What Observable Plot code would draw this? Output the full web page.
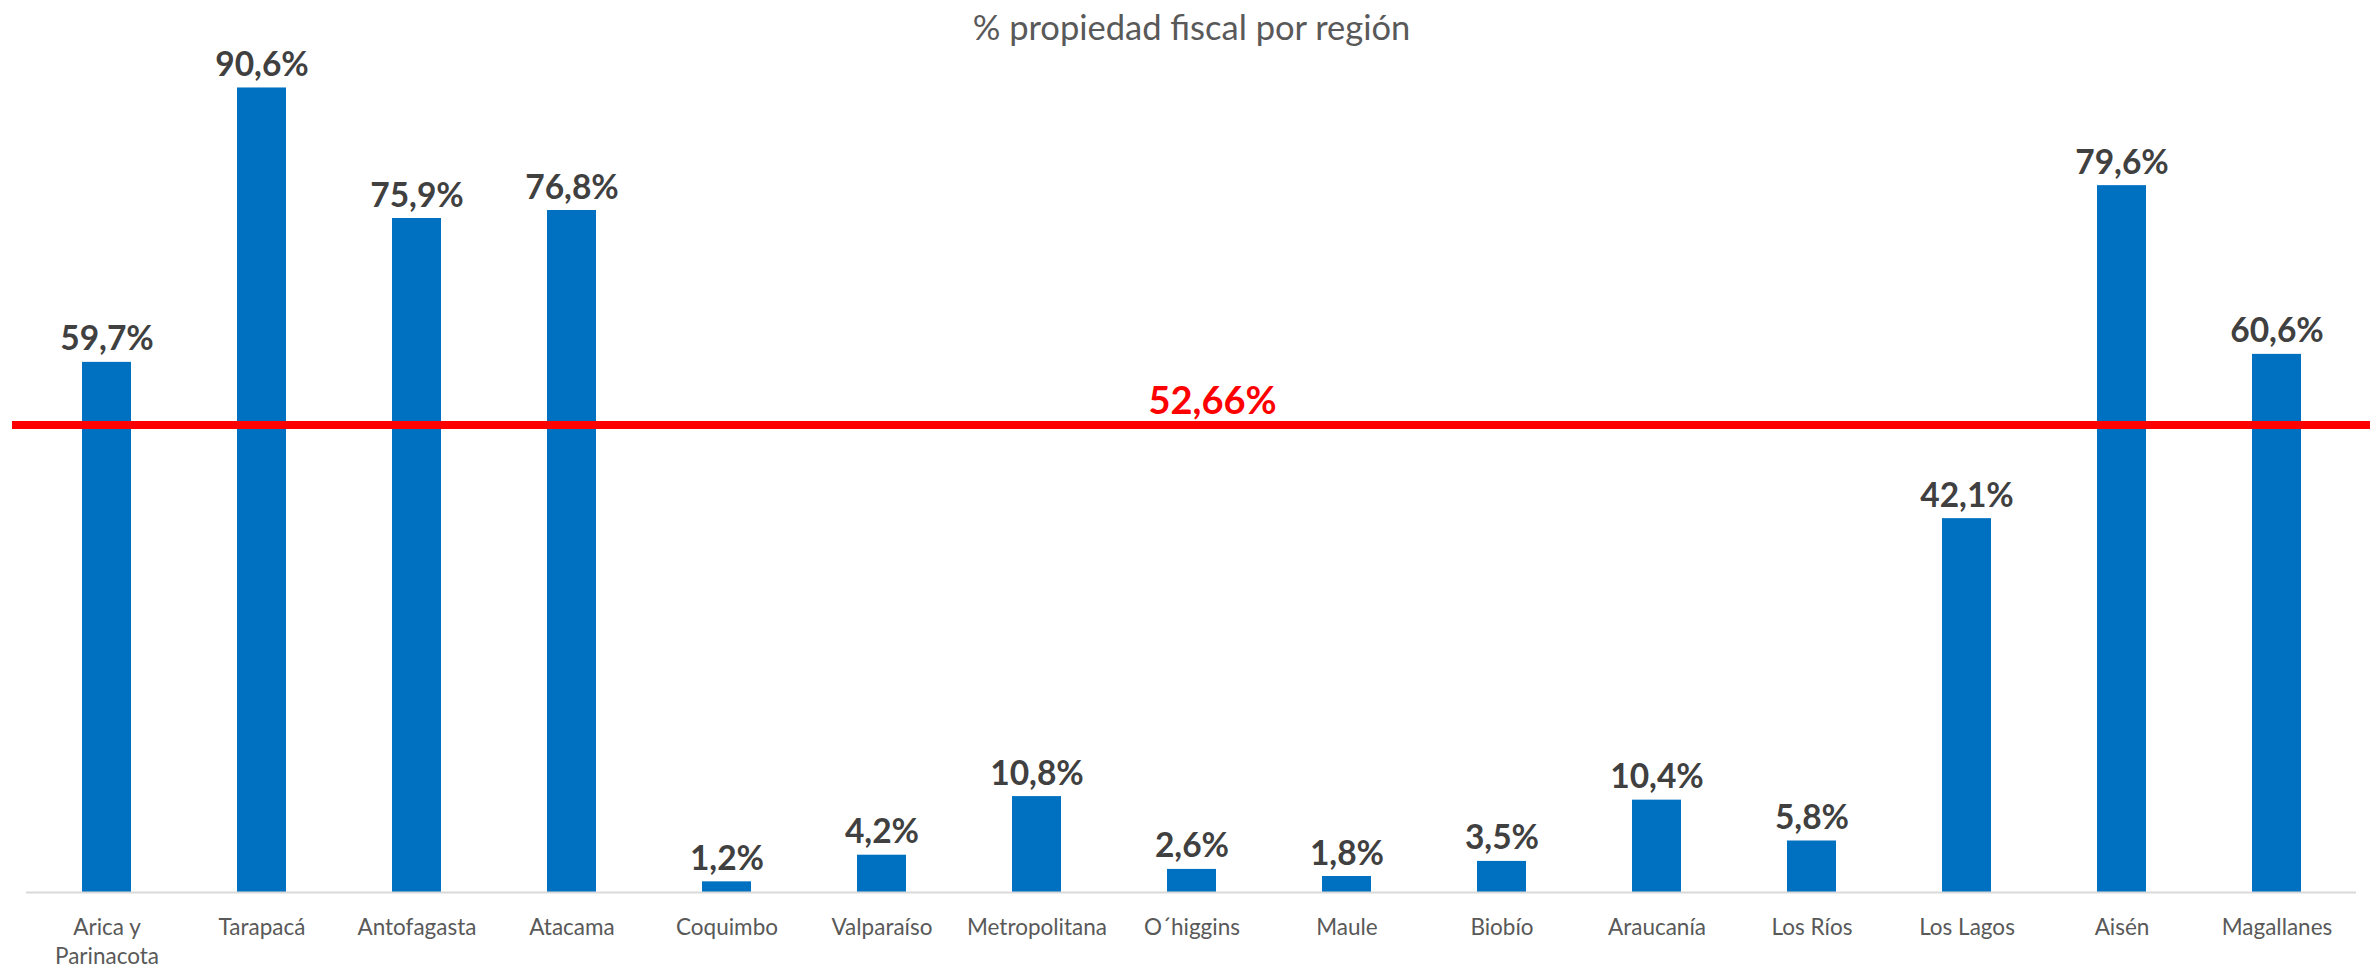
<!DOCTYPE html>
<html>
<head>
<meta charset="utf-8">
<script src="https://cdn.jsdelivr.net/npm/d3@7"></script>
<script src="https://cdn.jsdelivr.net/npm/@observablehq/plot@0.6"></script>
<style>
  html, body { margin: 0; padding: 0; background: #ffffff; }
  #chart { width: 2379px; height: 965px; }
</style>
</head>
<body>
<div id="chart"></div>
<script>
const title = "% propiedad fiscal por región";
const regions = [
  "Arica y\nParinacota", "Tarapacá", "Antofagasta", "Atacama", "Coquimbo",
  "Valparaíso", "Metropolitana", "O´higgins", "Maule", "Biobío",
  "Araucanía", "Los Ríos", "Los Lagos", "Aisén", "Magallanes"
];
const values = [59.7, 90.6, 75.9, 76.8, 1.2, 4.2, 10.8, 2.6, 1.8, 3.5, 10.4, 5.8, 42.1, 79.6, 60.6];
const average = 52.66;
const averageLabel = "52,66%";

const data = regions.map((r, i) => ({region: r, value: values[i]}));
const fmt = v => v.toFixed(1).replace(".", ",") + "%";

const chart = Plot.plot({
  width: 2379,
  height: 965,
  marginLeft: 26,
  marginRight: 23,
  marginTop: 4,
  marginBottom: 73,
  style: {fontFamily: "Lato, 'Open Sans', sans-serif", background: "#ffffff", overflow: "visible"},
  x: {domain: regions, paddingInner: 0.684, paddingOuter: 0.342, label: null},
  y: {domain: [0, 100], axis: null},
  marks: [
    Plot.barY(data, {x: "region", y: "value", fill: "#0070C0"}),
    Plot.ruleY([0], {stroke: "#d9d9d9", strokeWidth: 2}),
    Plot.axisX({tickSize: 0, tickPadding: 23, fontSize: 22.5, color: "#595959", lineHeight: 1.25, label: null}),
    Plot.text(data, {
      x: "region", y: "value", text: d => fmt(d.value),
      lineAnchor: "bottom", dy: -12, fontSize: 33.5, fontWeight: "bold", fill: "#404040"
    }),
    Plot.ruleY([average], {stroke: "#FF0000", strokeWidth: 8, insetLeft: -14, insetRight: -14}),
    Plot.text([average], {
      y: d => d, frameAnchor: "middle", text: () => averageLabel,
      lineAnchor: "bottom", dx: 21, dy: -11, fontSize: 38, fontWeight: "bold", fill: "#FF0000"
    }),
    Plot.text([title], {
      frameAnchor: "top", text: d => d, lineAnchor: "bottom", dy: 35,
      fontSize: 34.5, fill: "#595959"
    })
  ]
});
document.getElementById("chart").appendChild(chart);
</script>
</body>
</html>
